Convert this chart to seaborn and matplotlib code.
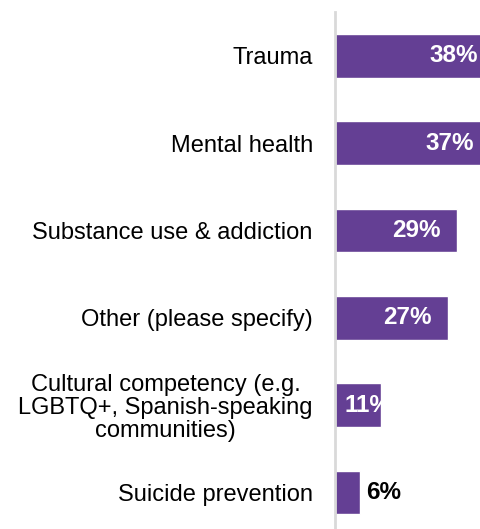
import matplotlib
matplotlib.use("Agg")
import matplotlib.pyplot as plt
import seaborn as sns
import pandas as pd

categories = ["Trauma", "Mental health", "Substance use & addiction",
              "Other (please specify)",
              "Cultural competency (e.g.\nLGBTQ+, Spanish-speaking\ncommunities)",
              "Suicide prevention"]
values = [38, 37, 29, 27, 11, 6]
labels = ["38%", "37%", "29%", "27%", "11%", "6%"]

sns.set_theme(style="white")
plt.rcParams['font.family'] = ['Liberation Sans', 'DejaVu Sans']

df = pd.DataFrame({"cat": categories, "val": values})
W, H = 481, 529
fig = plt.figure(figsize=(W / 100, H / 100), dpi=100)
ax_left = 335 / W
ax_top = 1 - 12 / H
ax_h = 524 / H
ax = fig.add_axes([ax_left, ax_top - ax_h, 1 - ax_left, ax_h])

purple = "#643f94"
sns.barplot(data=df, x="val", y="cat", orient="h", color=purple,
            width=0.5, saturation=1, ax=ax)
ax.set_xlim(0, (W - 335) / 4.2)
ax.set_ylim(len(categories) - 0.5, -0.5)
ax.set_xlabel("")
ax.set_ylabel("")
ax.set_xticks([])
for s in ["top", "right", "bottom"]:
    ax.spines[s].set_visible(False)
ax.spines["left"].set_color("#d9d9d9")
ax.spines["left"].set_linewidth(2)
ax.tick_params(axis="y", length=0, pad=16)
for t in ax.get_yticklabels():
    t.set_fontsize(17)
    t.set_color("black")
    t.set_multialignment("center")
    t.set_linespacing(1.05)

FS = 17.5
for i, (p, v, lab) in enumerate(zip(ax.patches, values, labels)):
    yc = p.get_y() + p.get_height() / 2
    if v >= 20:
        txt = ax.annotate(lab, xy=(v, yc), xytext=(-12, 0), textcoords="offset points",
                          ha="right", va="center", color="white", fontsize=FS,
                          fontweight="bold", annotation_clip=False)
    elif v >= 10:
        txt = ax.annotate(lab, xy=(0, yc), xytext=(7, 0), textcoords="offset points",
                          ha="left", va="center", color="white", fontsize=FS,
                          fontweight="bold")
        txt.set_clip_path(p)
    else:
        txt = ax.annotate(lab, xy=(v, yc), xytext=(4, 0), textcoords="offset points",
                          ha="left", va="center", color="black", fontsize=FS,
                          fontweight="bold")

fig.savefig("out.png", dpi=100)
